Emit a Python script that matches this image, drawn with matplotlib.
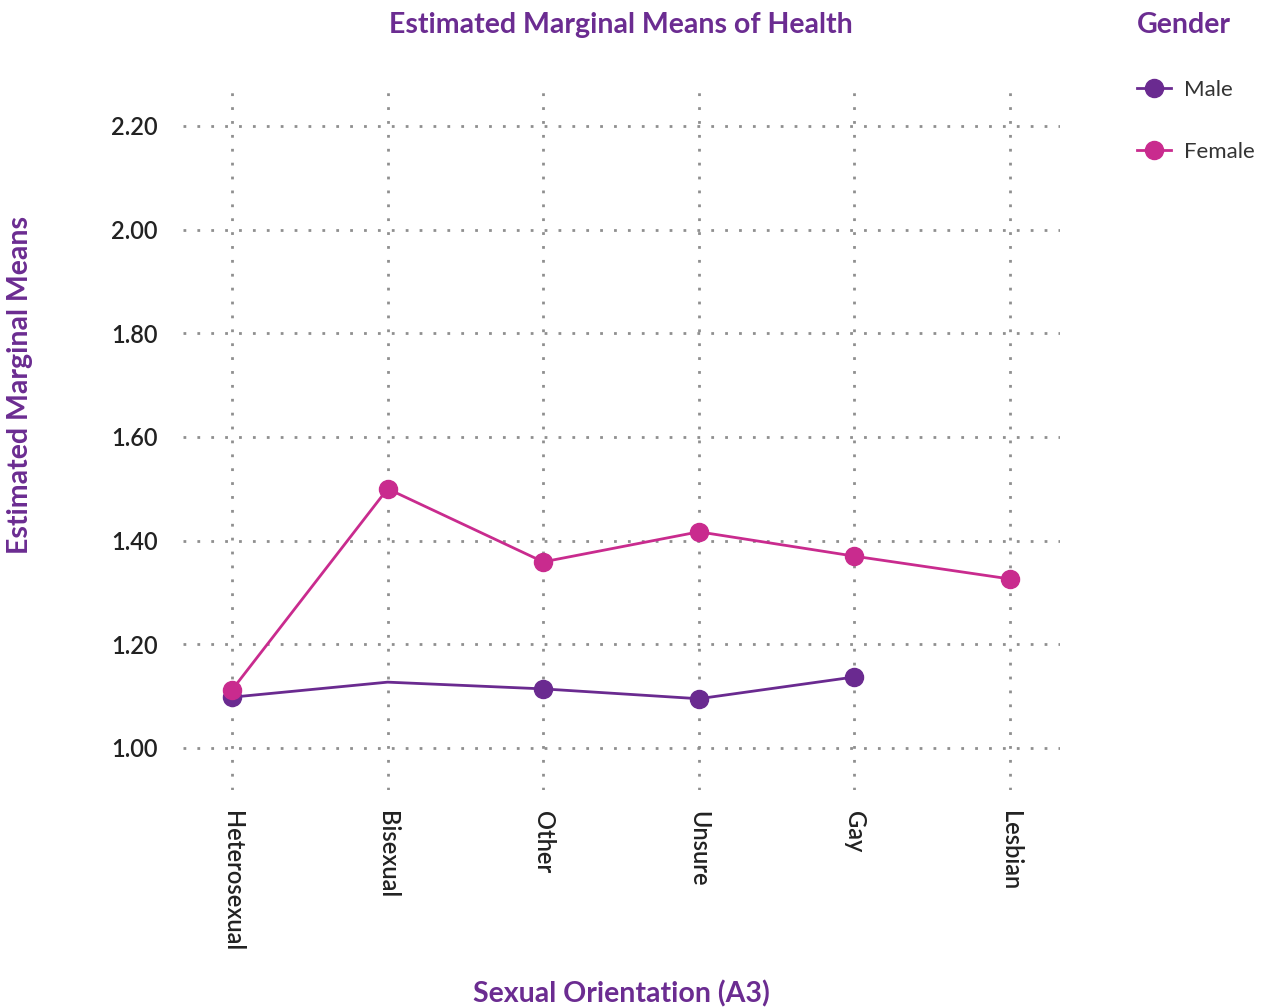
import numpy as np
import matplotlib.pyplot as plt

plt.rcParams['font.family'] = ['Lato', 'DejaVu Sans']

categories = ['Heterosexual', 'Bisexual', 'Other', 'Unsure', 'Gay', 'Lesbian']
male = [1.098, 1.127, 1.114, 1.095, 1.137]
female = [1.112, 1.500, 1.359, 1.417, 1.370, 1.326]
yticks = [1.00, 1.20, 1.40, 1.60, 1.80, 2.00, 2.20]

purple = '#6a2a90'
pink = '#c92b8e'
title_col = '#6b2c91'

fig = plt.figure(figsize=(12.69, 10.08), dpi=100)
ax = fig.add_axes([0.1442, 0.2163, 0.691, 0.6994])

x = np.arange(len(categories))
ax.plot(x[:len(male)], male, color=purple, lw=2, marker='o', ms=13,
        markevery=[0, 2, 3, 4], label='Male', zorder=3)
ax.plot(x, female, color=pink, lw=2, marker='o', ms=13, label='Female', zorder=4)

ax.set_xlim(-0.315, 5.32)
ax.set_ylim(0.919, 2.279)
ax.set_xticks(x)
ax.set_xticklabels(categories, rotation=-90, va='top', ha='center',
                   fontsize=17, color='#222222', fontweight='semibold')
ax.set_yticks(yticks)
ax.set_yticklabels(['%.2f' % v for v in yticks], fontsize=17,
                   color='#222222', fontweight='semibold')
ax.tick_params(length=0)
ax.tick_params(axis='x', pad=15)
ax.tick_params(axis='y', pad=18)
ax.grid(True, color='#8f8f8f', linestyle=(0, (1, 4)), lw=2)
for s in ax.spines.values():
    s.set_visible(False)

fig.text(0.489, 0.975, 'Estimated Marginal Means of Health', ha='center', va='center',
         fontsize=20.5, fontweight='bold', color=title_col)
fig.text(0.49, 0.014, 'Sexual Orientation (A3)', ha='center', va='center',
         fontsize=20.5, fontweight='bold', color=title_col)
fig.text(0.016, 0.618, 'Estimated Marginal Means', ha='center', va='center',
         rotation=90, fontsize=20.5, fontweight='bold', color=title_col)

leg = fig.legend(loc='upper left', bbox_to_anchor=(0.884, 1.004), frameon=False,
                 title='Gender', fontsize=16, labelspacing=1.9, handlelength=1.5,
                 handletextpad=0.6, alignment='left', borderaxespad=0.3)
leg.get_title().set_fontsize(20.5)
leg.get_title().set_fontweight('bold')
leg.get_title().set_color(title_col)
for t in leg.get_texts():
    t.set_color('#333333')

plt.savefig('out.png', dpi=100)
